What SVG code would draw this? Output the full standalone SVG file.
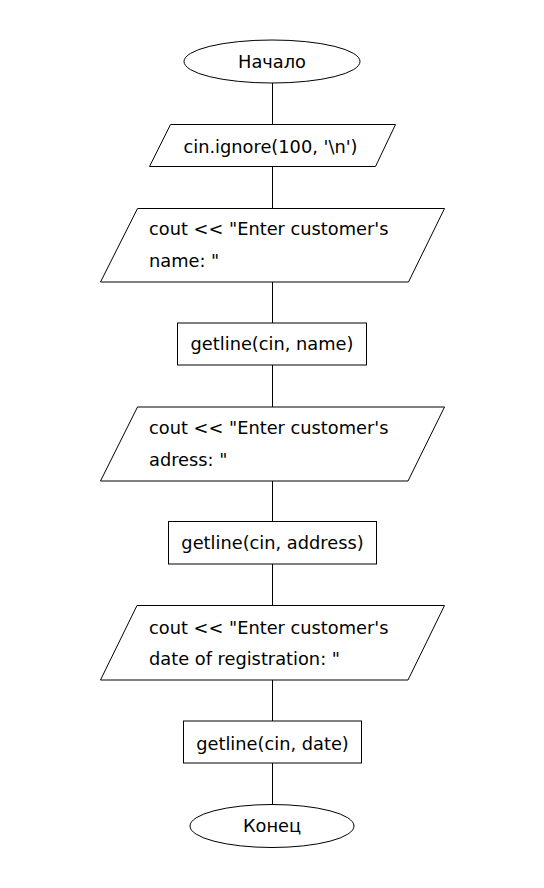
<svg xmlns="http://www.w3.org/2000/svg" width="544" height="888" viewBox="0 0 544 888">
<style>
.s{fill:#fff;stroke:#000;stroke-width:1}
.c{stroke:#000;stroke-width:1;fill:none}
text{font-family:"DejaVu Sans",Verdana,sans-serif;font-size:17.8px;fill:#000}
.m{text-anchor:middle}
</style>
<rect width="544" height="888" fill="#fff"/>
<g id="connectors">
<line class="c" x1="272.5" y1="83" x2="272.5" y2="124.5"/>
<line class="c" x1="272.5" y1="166.5" x2="272.5" y2="208.5"/>
<line class="c" x1="272.5" y1="282" x2="272.5" y2="323"/>
<line class="c" x1="272.5" y1="365" x2="272.5" y2="407"/>
<line class="c" x1="272.5" y1="481" x2="272.5" y2="521.5"/>
<line class="c" x1="272.5" y1="564" x2="272.5" y2="605.5"/>
<line class="c" x1="272.5" y1="680" x2="272.5" y2="721"/>
<line class="c" x1="272.5" y1="763" x2="272.5" y2="804.5"/>
</g>
<g id="start">
<ellipse class="s" cx="272" cy="61.5" rx="88" ry="21.5"/>
<text class="m" x="272" y="67.5">Начало</text>
</g>
<g id="ignore">
<polygon class="s" points="170.5,124.5 395.5,124.5 375.5,166.5 149.5,166.5"/>
<text class="m" x="270.5" y="152.5">cin.ignore(100, '\n')</text>
</g>
<g id="prompt-name">
<polygon class="s" points="137.5,208.5 444.5,208.5 408.5,282 100.5,282"/>
<text x="149" y="234.5">cout &lt;&lt; "Enter customer's</text>
<text x="149" y="266.5">name: "</text>
</g>
<g id="getline-name">
<rect class="s" x="177.5" y="323" width="189" height="42"/>
<text class="m" x="272" y="350">getline(cin, name)</text>
</g>
<g id="prompt-address">
<polygon class="s" points="137.5,407 444.5,407 408,481 100.5,481"/>
<text x="149" y="434">cout &lt;&lt; "Enter customer's</text>
<text x="149" y="465.5">adress: "</text>
</g>
<g id="getline-address">
<rect class="s" x="168.5" y="521.5" width="208" height="42.5"/>
<text class="m" x="272.5" y="548.5">getline(cin, address)</text>
</g>
<g id="prompt-date">
<polygon class="s" points="137,605.5 444.5,605.5 408,680 100.5,680"/>
<text x="149" y="633.5">cout &lt;&lt; "Enter customer's</text>
<text x="149" y="665">date of registration: "</text>
</g>
<g id="getline-date">
<rect class="s" x="183.5" y="721" width="178" height="42"/>
<text class="m" x="272.5" y="750">getline(cin, date)</text>
</g>
<g id="end">
<ellipse class="s" cx="272" cy="826" rx="82" ry="21.5"/>
<text class="m" x="272" y="832">Конец</text>
</g>
</svg>
